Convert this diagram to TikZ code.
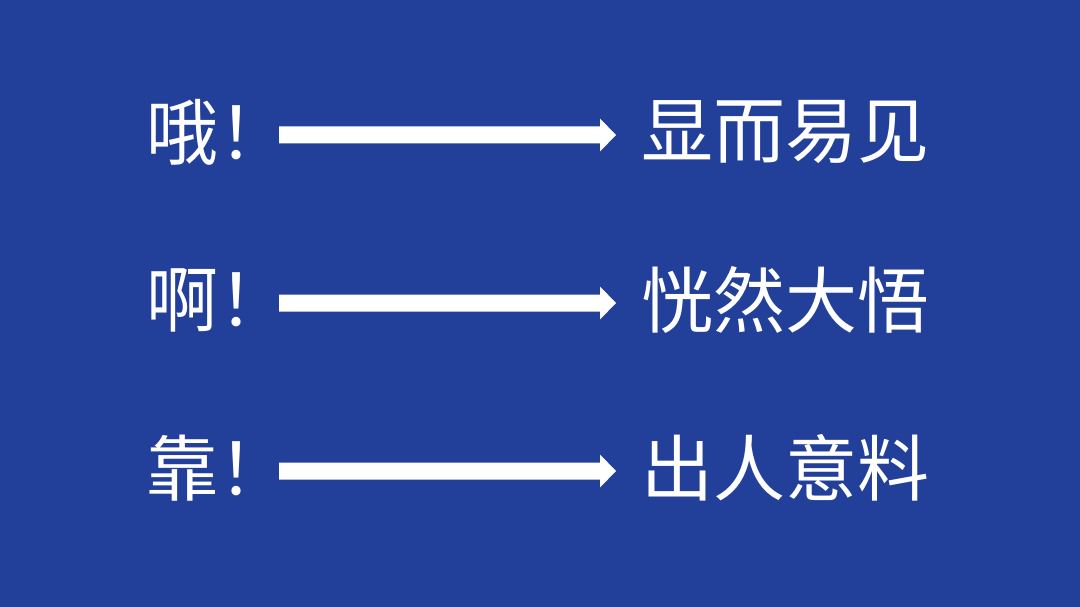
\documentclass[tikz,border=0pt]{standalone}
\usepackage{fontspec}
\usetikzlibrary{calc}
\newfontfamily\cjk{Noto Sans CJK SC}
\definecolor{bgblue}{HTML}{22409A}
\begin{document}
\begin{tikzpicture}[x=1pt,y=-1pt,
  word/.style={inner sep=0pt, text=white, font=\cjk\fontsize{72}{80}\selectfont},
  lword/.style={word, anchor=west},
  rword/.style={word, anchor=center},
  arrowfill/.style={fill=white}]
\fill[bgblue] (0,0) rectangle (1080,607);
\useasboundingbox (0,0) rectangle (1080,607);
\newcommand{\fatarrow}[2]{%
  \fill[arrowfill] ($(#1)+(0,-8.5)$) -- ($(#2)+(-16,-8.5)$) -- ($(#2)+(-16,-16.5)$) -- (#2)
    -- ($(#2)+(-16,16.5)$) -- ($(#2)+(-16,8.5)$) -- ($(#1)+(0,8.5)$) -- cycle;}
\foreach \i/\l/\r/\ty/\ay in {1/哦！/显而易见/132/135, 2/啊！/恍然大悟/300/303, 3/靠！/出人意料/468/471}{
  \node[lword] (L\i) at (146,\ty) {\l};
  \node[rword] (R\i) at (785,\ty) {\r};
  \coordinate (s\i) at (279,\ay);
  \coordinate (t\i) at (616,\ay);
  \fatarrow{s\i}{t\i}
}
\end{tikzpicture}
\end{document}
